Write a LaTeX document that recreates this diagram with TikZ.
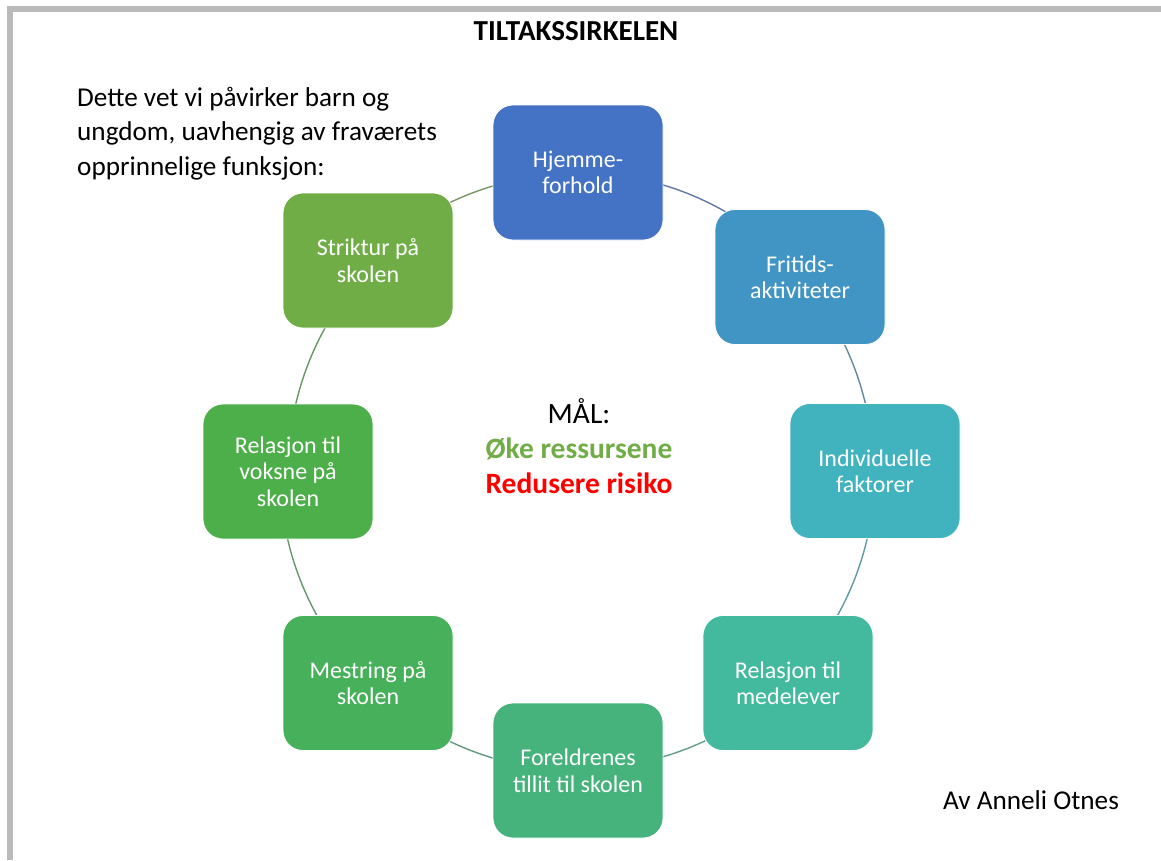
\documentclass[tikz,border=0pt]{standalone}
\usepackage{fontspec}
\setmainfont{Carlito}
\usetikzlibrary{backgrounds}
\definecolor{cA}{HTML}{4472C4}
\definecolor{cB}{HTML}{4195C5}
\definecolor{cC}{HTML}{41B3BF}
\definecolor{cD}{HTML}{43BA9E}
\definecolor{cE}{HTML}{45B37B}
\definecolor{cF}{HTML}{47B05A}
\definecolor{cG}{HTML}{4DAF4A}
\definecolor{cH}{HTML}{70AD47}
\definecolor{framegray}{HTML}{BABABA}
\definecolor{goalgreen}{HTML}{70AD47}
\definecolor{goalred}{HTML}{FF0000}
\begin{document}
\begin{tikzpicture}[x=1pt,y=-1pt,
  box/.style={rounded corners=20pt, minimum width=170pt, minimum height=135pt,
    inner sep=0pt, align=center, text=white, draw=white, line width=0.8pt,
    font=\fontsize{24}{26.5}\selectfont},
  link/.style={line width=1.4pt}]
\path[use as bounding box] (0,0) rectangle (1161,860);
\fill[framegray] (7,6) rectangle (1161,12);
\fill[framegray] (7,6) rectangle (13,860);

\node[font=\bfseries\fontsize{29}{32}\selectfont, anchor=base] (title) at (576,40) {TILTAKSSIRKELEN};

\node[font=\fontsize{27.2}{34.5}\selectfont, align=left, anchor=base west, inner sep=0pt] (intro) at (77,175)
  {Dette vet vi påvirker barn og\\ungdom, uavhengig av fraværets\\opprinnelige funksjon:};

\node[box, fill=cA] (n1) at (578,172.5) {Hjemme-\\forhold};
\node[box, fill=cB] (n2) at (800,277) {Fritids-\\aktiviteter};
\node[box, fill=cC] (n3) at (875,471) {Individuelle\\faktorer};
\node[box, fill=cD] (n4) at (788,683) {Relasjon til\\medelever};
\node[box, fill=cE] (n5) at (578,770.5) {Foreldrenes\\tillit til skolen};
\node[box, fill=cF] (n6) at (368,683) {Mestring på\\skolen};
\node[box, fill=cG] (n7) at (288,471.5) {Relasjon til\\voksne på\\skolen};
\node[box, fill=cH] (n8) at (368,260.5) {Striktur på\\skolen};

\begin{scope}[on background layer]
\draw[link, cA!50!gray] (n1.center) arc[start angle=90, end angle=41.2, radius=297pt];
\draw[link, cB!50!gray] (n2.center) arc[start angle=41.2, end angle=0, radius=297pt];
\draw[link, cC!50!gray] (n3.center) arc[start angle=0, end angle=-45.3, radius=297pt];
\draw[link, cD!50!gray] (n4.center) arc[start angle=-45.3, end angle=-90, radius=297pt];
\draw[link, cE!50!gray] (n5.center) arc[start angle=-90, end angle=-134.7, radius=297pt];
\draw[link, cF!50!gray] (n6.center) arc[start angle=-134.7, end angle=-180, radius=297pt];
\draw[link, cG!50!gray] (n7.center) arc[start angle=180, end angle=135, radius=297pt];
\draw[link, cH!50!gray] (n8.center) arc[start angle=135, end angle=90, radius=297pt];
\end{scope}

\node[font=\fontsize{29.5}{35}\selectfont, align=center, anchor=base, inner sep=0pt] (goal) at (579,493)
  {MÅL:\\\textcolor{goalgreen}{\bfseries Øke ressursene}\\\textcolor{goalred}{\bfseries Redusere risiko}};

\node[font=\fontsize{27.2}{30}\selectfont, anchor=base west, inner sep=0pt] (author) at (943,809) {Av Anneli Otnes};
\end{tikzpicture}
\end{document}
